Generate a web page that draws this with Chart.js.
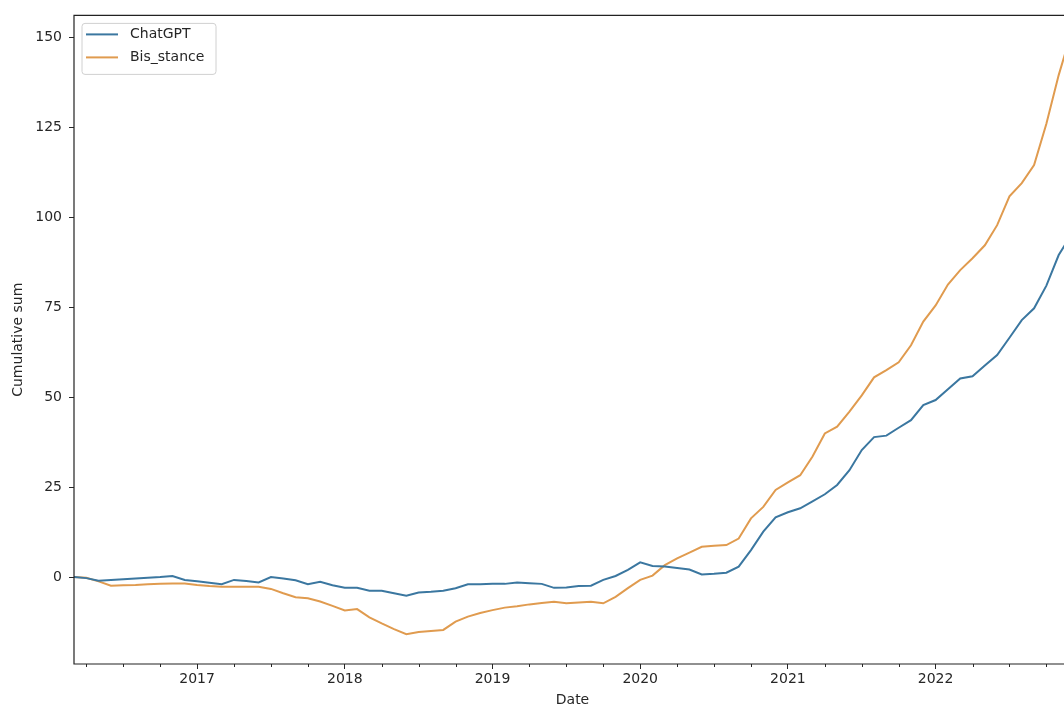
<!DOCTYPE html>
<html>
<head>
<meta charset="utf-8">
<script src="https://cdn.jsdelivr.net/npm/chart.js@4/dist/chart.umd.min.js"></script>
<style>
  html, body { margin: 0; padding: 0; background: #fff; overflow: hidden; }
  #wrap { width: 1090px; height: 706px; }
</style>
</head>
<body>
<div id="wrap"><canvas id="c" width="1090" height="706"></canvas></div>
<script>
// Monthly dates (2016-03 .. 2022-12)
const dates = [
  '2016-03','2016-04','2016-05','2016-06','2016-07','2016-08','2016-09','2016-10','2016-11','2016-12',
  '2017-01','2017-02','2017-03','2017-04','2017-05','2017-06','2017-07','2017-08','2017-09','2017-10','2017-11','2017-12',
  '2018-01','2018-02','2018-03','2018-04','2018-05','2018-06','2018-07','2018-08','2018-09','2018-10','2018-11','2018-12',
  '2019-01','2019-02','2019-03','2019-04','2019-05','2019-06','2019-07','2019-08','2019-09','2019-10','2019-11','2019-12',
  '2020-01','2020-02','2020-03','2020-04','2020-05','2020-06','2020-07','2020-08','2020-09','2020-10','2020-11','2020-12',
  '2021-01','2021-02','2021-03','2021-04','2021-05','2021-06','2021-07','2021-08','2021-09','2021-10','2021-11','2021-12',
  '2022-01','2022-02','2022-03','2022-04','2022-05','2022-06','2022-07','2022-08','2022-09','2022-10','2022-11','2022-12'
];

const chatgpt = [
  0, -0.3, -1.0, -0.8, -0.6, -0.4, -0.2, 0, 0.3, -0.8,
  -1.2, -1.6, -2.0, -0.8, -1.1, -1.5, 0, -0.4, -0.9, -2.0, -1.3, -2.3,
  -3.0, -3.0, -3.8, -3.8, -4.5, -5.2, -4.3, -4.1, -3.8, -3.1, -2.0, -2.0,
  -1.9, -1.9, -1.5, -1.7, -1.9, -3.0, -2.9, -2.5, -2.4, -0.8, 0.3, 2.0,
  4.1, 3.1, 2.9, 2.5, 2.1, 0.7, 0.9, 1.2, 2.9, 7.5, 12.6, 16.6,
  18.0, 19.1, 21.0, 23.0, 25.6, 29.7, 35.3, 38.9, 39.3, 41.5, 43.6, 47.8,
  49.2, 52.2, 55.2, 55.8, 58.8, 61.7, 66.5, 71.4, 74.7, 81.0, 89.5, 95.0
];

const bisStance = [
  0, -0.2, -1.2, -2.4, -2.3, -2.2, -2.0, -1.9, -1.8, -1.8,
  -2.2, -2.5, -2.7, -2.7, -2.7, -2.7, -3.3, -4.5, -5.6, -5.9, -6.8, -8.0,
  -9.3, -8.9, -11.2, -12.9, -14.5, -15.9, -15.3, -15.0, -14.7, -12.4, -11.0, -10.0,
  -9.2, -8.5, -8.1, -7.6, -7.2, -6.9, -7.3, -7.1, -6.9, -7.3, -5.5, -3.1,
  -0.8, 0.4, 3.3, 5.2, 6.8, 8.4, 8.7, 8.9, 10.7, 16.3, 19.5, 24.2,
  26.3, 28.3, 33.5, 39.9, 41.8, 46.0, 50.5, 55.5, 57.5, 59.7, 64.4, 71.0,
  75.5, 81.3, 85.3, 88.6, 92.2, 97.8, 105.8, 109.5, 114.5, 126.0, 139.5, 151.0
];

const seriesNames = ['ChatGPT', 'Bis_stance'];
const seriesColors = ['#3b77a0', '#e09b4f'];
const yTickValues = [0, 25, 50, 75, 100, 125, 150];
const xTickLabels = ['2017', '2018', '2019', '2020', '2021', '2022'];

const FONT = "'DejaVu Sans', sans-serif";
const TXT = '#262626';

const majorIdx = xTickLabels.map(y => dates.indexOf(y + '-01'));
const minorIdx = dates.map((d, i) => ({ m: +d.slice(5), i }))
  .filter(o => o.m === 4 || o.m === 7 || o.m === 10).map(o => o.i);

function pts(arr) { return arr.map((v, i) => ({ x: i, y: v })); }

const framePlugin = {
  id: 'frame',
  afterDraw(chart) {
    const { ctx, chartArea: a, scales } = chart;
    ctx.save();
    // minor ticks on x axis
    ctx.strokeStyle = TXT;
    ctx.lineWidth = 1;
    minorIdx.forEach(i => {
      const px = Math.round(scales.x.getPixelForValue(i)) + 0.5;
      ctx.beginPath();
      ctx.moveTo(px, a.bottom);
      ctx.lineTo(px, a.bottom + 3);
      ctx.stroke();
    });
    // spines
    ctx.strokeStyle = '#222';
    ctx.lineWidth = 1.2;
    ctx.beginPath();
    ctx.moveTo(a.left, a.top);
    ctx.lineTo(a.right, a.top);
    ctx.lineTo(a.right, a.bottom);
    ctx.lineTo(a.left, a.bottom);
    ctx.closePath();
    ctx.stroke();

    // legend
    const bx = a.left + 8, by = a.top + 8, bw = 134, bh = 51, r = 3;
    ctx.fillStyle = 'rgba(255,255,255,0.85)';
    ctx.strokeStyle = '#d0d0d0';
    ctx.lineWidth = 1;
    ctx.beginPath();
    ctx.moveTo(bx + r, by);
    ctx.lineTo(bx + bw - r, by);
    ctx.quadraticCurveTo(bx + bw, by, bx + bw, by + r);
    ctx.lineTo(bx + bw, by + bh - r);
    ctx.quadraticCurveTo(bx + bw, by + bh, bx + bw - r, by + bh);
    ctx.lineTo(bx + r, by + bh);
    ctx.quadraticCurveTo(bx, by + bh, bx, by + bh - r);
    ctx.lineTo(bx, by + r);
    ctx.quadraticCurveTo(bx, by, bx + r, by);
    ctx.closePath();
    ctx.fill();
    ctx.stroke();
    chart.data.datasets.forEach((ds, k) => {
      const ly = by + 11 + k * 23;
      ctx.strokeStyle = ds.borderColor;
      ctx.lineWidth = 2;
      ctx.beginPath();
      ctx.moveTo(bx + 4, ly);
      ctx.lineTo(bx + 36, ly);
      ctx.stroke();
      ctx.fillStyle = TXT;
      ctx.font = '14px ' + FONT;
      ctx.textBaseline = 'middle';
      ctx.textAlign = 'left';
      ctx.fillText(ds.label, bx + 48, ly);
    });
    ctx.restore();
  }
};

new Chart(document.getElementById('c'), {
  type: 'line',
  data: {
    datasets: [
      { label: seriesNames[0], data: pts(chatgpt), borderColor: seriesColors[0], borderWidth: 2, pointRadius: 0, tension: 0 },
      { label: seriesNames[1], data: pts(bisStance), borderColor: seriesColors[1], borderWidth: 2, pointRadius: 0, tension: 0 }
    ]
  },
  options: {
    responsive: false,
    animation: false,
    devicePixelRatio: 1,
    layout: { padding: { top: 15, right: 19, left: 0, bottom: 0 } },
    plugins: { legend: { display: false }, tooltip: { enabled: false } },
    scales: {
      x: {
        type: 'linear',
        min: 0,
        max: dates.length - 1,
        afterBuildTicks: s => { s.ticks = majorIdx.map(v => ({ value: v })); },
        afterFit: s => { s.height = 42; },
        grid: { drawOnChartArea: false, drawTicks: true, tickLength: 5, tickColor: TXT, tickWidth: 1 },
        border: { display: false },
        ticks: {
          color: TXT, font: { family: FONT, size: 14 }, padding: 2, maxRotation: 0, autoSkip: false,
          callback: (v) => xTickLabels[majorIdx.indexOf(v)] ?? ''
        },
        title: { display: true, text: 'Date', color: TXT, font: { family: FONT, size: 14 }, padding: { top: 0, bottom: -3 } }
      },
      y: {
        min: -24.17,
        max: 156.1,
        afterBuildTicks: s => { s.ticks = yTickValues.map(v => ({ value: v })); },
        afterFit: s => { s.width = 74; },
        grid: { drawOnChartArea: false, drawTicks: true, tickLength: 5, tickColor: TXT, tickWidth: 1 },
        border: { display: false },
        ticks: { color: TXT, font: { family: FONT, size: 14 }, padding: 7 },
        title: { display: true, text: 'Cumulative sum', color: TXT, font: { family: FONT, size: 14 }, padding: { top: 10, bottom: 0 } }
      }
    }
  },
  plugins: [framePlugin]
});
</script>
</body>
</html>
